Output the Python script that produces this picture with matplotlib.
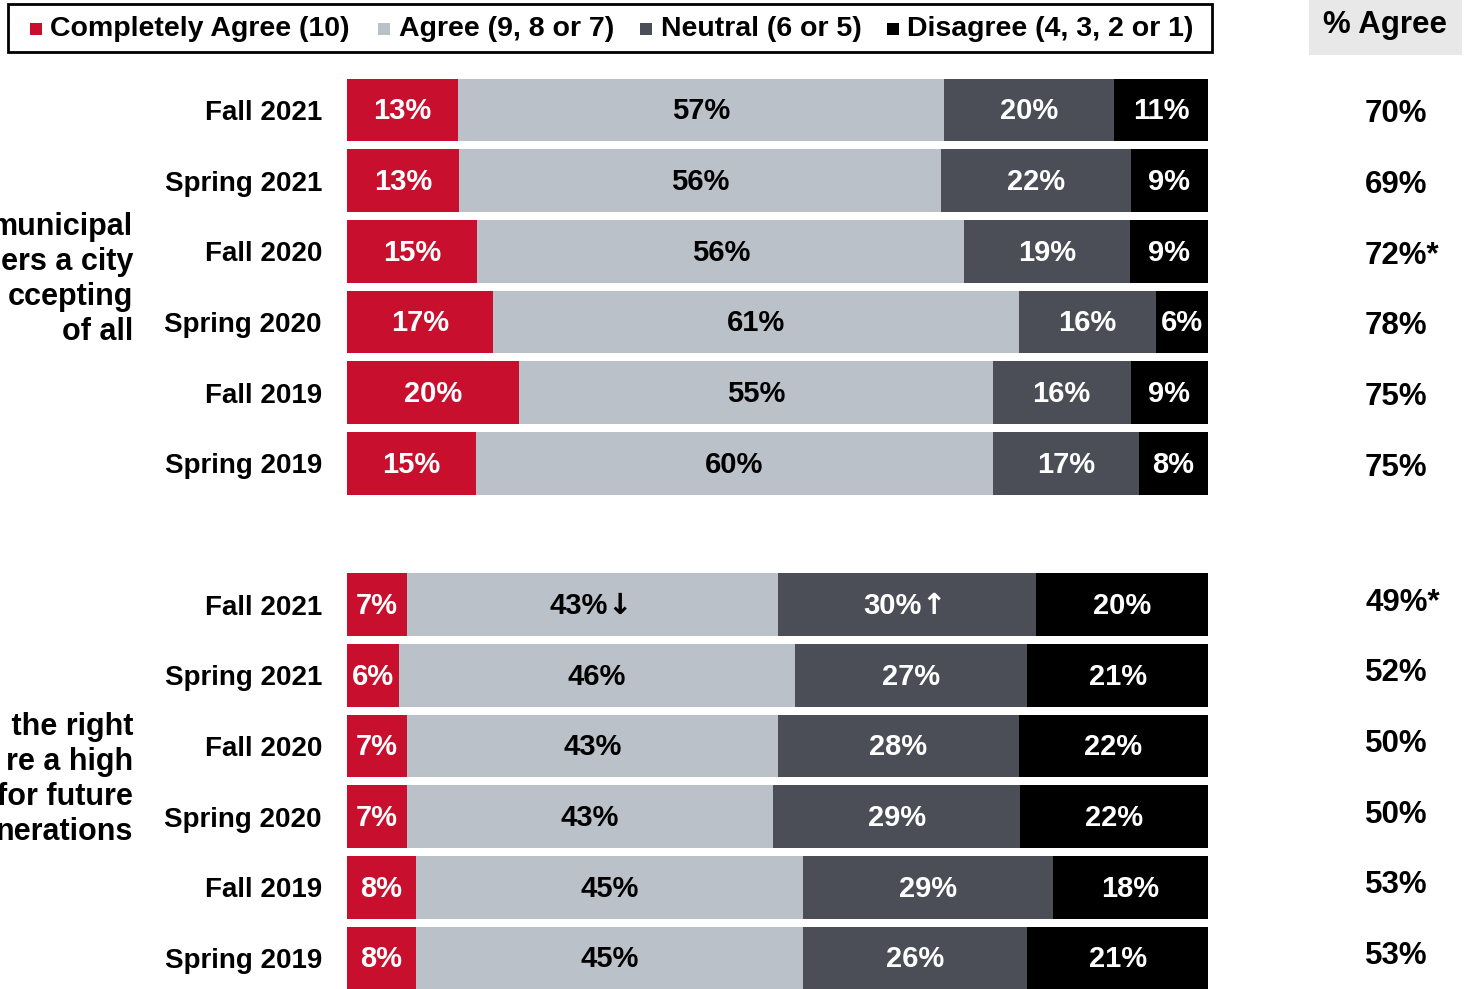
import matplotlib
matplotlib.use("Agg")
import matplotlib.pyplot as plt
import matplotlib.transforms as mtransforms
from matplotlib.patches import Rectangle
import numpy as np

plt.rcParams['font.family'] = ['Liberation Sans', 'DejaVu Sans']
plt.rcParams['font.weight'] = 'bold'

# ---------------- data ----------------
series = ["Completely Agree (10)", "Agree (9, 8 or 7)", "Neutral (6 or 5)", "Disagree (4, 3, 2 or 1)"]
colors = ["#C8102E", "#BBC1C8", "#4B4E56", "#000000"]
text_colors = ["white", "black", "white", "white"]

periods = ["Fall 2021", "Spring 2021", "Fall 2020", "Spring 2020", "Fall 2019", "Spring 2019"]

g1_complete = [13, 13, 15, 17, 20, 15]
g1_agree    = [57, 56, 56, 61, 55, 60]
g1_neutral  = [20, 22, 19, 16, 16, 17]
g1_disagree = [11, 9, 9, 6, 9, 8]
g1_pct      = ["70%", "69%", "72%*", "78%", "75%", "75%"]

g2_complete = [7, 6, 7, 7, 8, 8]
g2_agree    = [43, 46, 43, 43, 45, 45]
g2_neutral  = [30, 27, 28, 29, 29, 26]
g2_disagree = [20, 21, 22, 22, 18, 21]
g2_pct      = ["49%*", "52%", "50%", "50%", "53%", "53%"]
# trend markers on first row of group 2: (row, segment) -> arrow
g2_marks = {(0, 1): "\u2193", (0, 2): "\u2191"}

group1_label = "municipal\ners a city\nccepting\nof all"
group2_label = " the right\nre a high\nfor future\nnerations"
header = "% Agree"

# ---------------- figure ----------------
W, H = 1471, 989
fig = plt.figure(figsize=(W / 100, H / 100), dpi=100)
fig.patch.set_facecolor("white")

ax = fig.add_axes([347 / W, (H - 993.3) / H, 861 / W, (993.3 - 74.7) / H])
ax.set_xlim(0, 100)
ax.set_ylim(12.5, -0.5)
for s in ax.spines.values():
    s.set_visible(False)
ax.set_xticks([])

groups = [
    (np.arange(0, 6), [g1_complete, g1_agree, g1_neutral, g1_disagree], g1_pct, {}, 0.06),
    (np.arange(7, 13), [g2_complete, g2_agree, g2_neutral, g2_disagree], g2_pct, g2_marks, -0.03),
]

trans_right = mtransforms.blended_transform_factory(fig.transFigure, ax.transData)
yticks, ylabels = [], []
for rows, vals, pcts, marks, pdy in groups:
    vals = np.array(vals, dtype=float)  # shape (4, 6)
    totals = vals.sum(axis=0)
    norm = vals / totals * 100
    left = np.zeros(len(rows))
    for k in range(4):
        ax.barh(rows, norm[k], left=left, height=0.89, color=colors[k], edgecolor="none")
        for i, r in enumerate(rows):
            lab = f"{int(vals[k][i])}%"
            xc = left[i] + norm[k][i] / 2
            mark = marks.get((i, k))
            if mark is None:
                ax.text(xc, r + 0.02, lab, ha="center", va="center",
                        color=text_colors[k], fontsize=21, fontweight="bold")
            else:
                ax.annotate(lab, (xc, r + 0.02), xytext=(-10, 0), textcoords="offset points",
                            ha="center", va="center", color=text_colors[k],
                            fontsize=21, fontweight="bold")
                ax.annotate(mark, (xc, r + 0.02), xytext=(10.5, 0), textcoords="offset points",
                            ha="left", va="center", color=text_colors[k],
                            fontsize=21, fontweight="bold", family="DejaVu Sans")
        left += norm[k]
    for i, r in enumerate(rows):
        ax.text(1365 / W, r + pdy, pcts[i], transform=trans_right, ha="left", va="center",
                fontsize=22.5, fontweight="bold", color="black")
    yticks.extend(rows)
    ylabels.extend(periods)

ax.set_yticks(yticks)
ax.set_yticklabels(ylabels, fontsize=20, fontweight="bold")
ax.tick_params(axis="y", length=0, pad=18)

# group labels (clipped at the left edge, as in the reference)
ax.text(133 / W, 2.4, group1_label, transform=trans_right, ha="right", va="center",
        fontsize=22, fontweight="bold", linespacing=1.22, multialignment="right")
ax.text(133 / W, 9.48, group2_label, transform=trans_right, ha="right", va="center",
        fontsize=22, fontweight="bold", linespacing=1.22, multialignment="right")

# header box
fig.patches.append(Rectangle((1309 / W, (H - 55) / H), 153 / W, 55 / H, transform=fig.transFigure,
                             facecolor="#E8E8E8", edgecolor="none", zorder=0))
fig.text(1385 / W, 1 - 25 / H, header, ha="center", va="center", fontsize=22.5, fontweight="bold")

# legend
fig.patches.append(Rectangle((8 / W, 1 - 52 / H), 1204 / W, 48 / H, transform=fig.transFigure,
                             facecolor="white", edgecolor="black", linewidth=2, zorder=1))
sq_x = [30, 378, 640, 887]
txt_x = [50, 399, 661, 907]
ly = 1 - 29 / H
for k in range(4):
    fig.patches.append(Rectangle((sq_x[k] / W, ly - 6 / H), 12 / W, 12 / H, transform=fig.transFigure,
                                 facecolor=colors[k], edgecolor="none", zorder=2))
    fig.text(txt_x[k] / W, ly, series[k], ha="left", va="center", fontsize=20.5,
             fontweight="bold", zorder=3)

fig.savefig("out.png", dpi=100, facecolor="white")
